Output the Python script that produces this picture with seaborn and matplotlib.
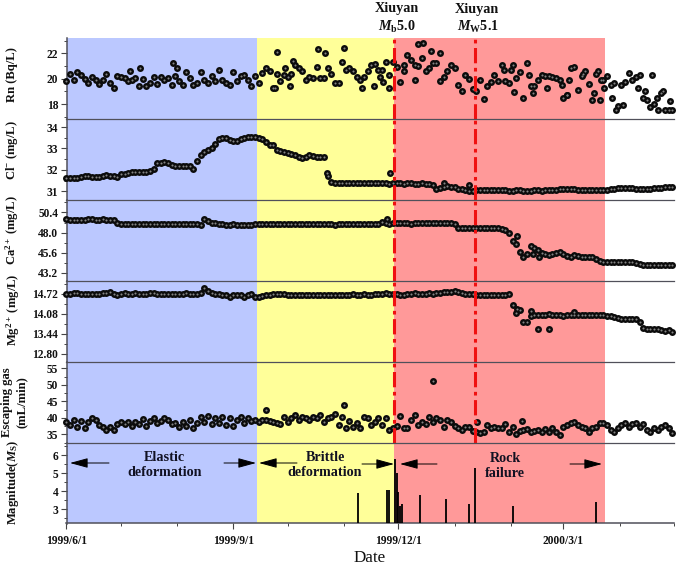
import numpy as np
import pandas as pd
import matplotlib
matplotlib.use("Agg")
import matplotlib.pyplot as plt
import matplotlib.dates as mdates
from matplotlib.ticker import AutoMinorLocator, FixedLocator
import seaborn as sns

# values every 2 days from 1999/6/1, one row = 30 days
rn = [19.85, 20.4, 19.9, 20.5, 20.25, 20, 19.65, 20.1, 19.9, 19.6, 19.9, 20.35, 19.65, 19.25, 20.2,
      20.1, 20.05, 19.8, 19.9, 20.05, 19.45, 20, 19.4, 19.65, 20.1, 19.55, 20.1, 19.9, 20.05, 19.5,
      20.2, 19.85, 19.5, 20.5, 20.05, 19.5, 19.65, 20.5, 19.9, 19.65, 20.2, 19.85, 20.65, 19.9, 19.65,
      19.5, 20.5, 19.85, 20.2, 20.25, 19.9, 19.4, 20.2, 19.65, 20.45, 20.8, 20.6, 19.25, 20.35, 19.85,
      20.25, 20.1, 20.35, 21.1, 20.8, 20.6, 19.9, 20.1, 20.05, 20.9, 20.05, 20.05, 20.8, 20.35, 19.65,
      19.65, 21.3, 20.7, 20.8, 20.6, 20.1, 19.9, 20.1, 20.6, 21.05, 21.15, 20.7, 20.7, 21.3, 20.25,
      21.3, 20.9, 19.75, 21.1, 21.9, 21.5, 21.1, 21, 21.6, 20.6, 20.85, 21.25, 21.25, 19.85, 20.1,
      20.6, 21.1, 20.8, 19.5, 19, 20.3, 20, 19.2, 19, 19.9, 18.4, 19.4, 19.7, 20.3, 19.85,
      21.05, 19.8, 19.65, 21.05, 20.05, 20.5, 18.5, 21.25, 19.4, 19.4, 19.9, 20.3, 20.2, 20.2, 20.1,
      20.05, 19.9, 18.5, 18.7, 20.8, 20.9, 19.1, 20.2, 20.6, 19.6, 18.3, 20.35, 18.3, 19.9, 20.2,
      19.5, 19.65, 17.85, 19.5, 19.75, 20.45, 19.9, 20.1, 20.3, 18.5, 18.35, 17.8, 18, 17.55, 18.9,
      17.55, 17.55, 17.5]
rn_extra_days = [34.8, 40.8, 59, 60.8, 114.7, 116, 120.7, 123, 124.8, 138.9, 142.7, 152.8, 163, 169.7,
                 172.8, 174.8, 178, 186, 192, 193.7, 196.6, 201, 205.8, 241.4, 245, 247, 255, 257,
                 264.9, 273, 275.8, 276.9, 285, 290.9, 293.3, 295, 296.6, 301, 303, 307, 315, 319,
                 323, 325.4, 328.7, 333]
rn_extra = [20.6, 20.8, 21.25, 20.8, 19.25, 22.1, 20.8, 19.4, 21.4, 22.3, 22, 22.4, 19.3, 19.4,
            20.1, 19.75, 19.3, 20.6, 19.9, 22.7, 22.8, 22.2, 22, 20.7, 20.65, 18.95, 20.25, 18.85,
            19.3, 19.5, 18.7, 19.9, 20.35, 18.85, 20.6, 19.9, 19.25, 18.5, 17.55, 17.95, 19.3, 19,
            20.3, 18.45, 19, 18.25]

cl = [31.6, 31.6, 31.6, 31.62, 31.65, 31.7, 31.72, 31.68, 31.65, 31.68, 31.72, 31.75, 31.72, 31.7, 31.65,
      31.8, 31.82, 31.85, 31.88, 31.9, 31.92, 31.9, 31.88, 31.95, 32.05, 32.3, 32.3, 32.35, 32.3, 32.25,
      32.2, 32.2, 32.18, 32.18, 32.2, 32.05, 32.4, 32.7, 32.85, 32.95, 33, 33.2, 33.45, 33.5, 33.48,
      33.38, 33.35, 33.35, 33.42, 33.5, 33.52, 33.55, 33.52, 33.5, 33.42, 33.28, 33.18, 33.15, 32.95, 32.9,
      32.85, 32.8, 32.75, 32.7, 32.62, 32.55, 32.62, 32.68, 32.65, 32.62, 32.62, 32.6, 31.7, 31.45, 31.4,
      31.38, 31.38, 31.4, 31.4, 31.4, 31.4, 31.38, 31.38, 31.38, 31.4, 31.4, 31.38, 31.38, 31.38, 31.36,
      31.38, 31.38, 31.38, 31.36, 31.38, 31.38, 31.36, 31.36, 31.38, 31.36, 31.34, 31.3, 31.12, 31.13, 31.2,
      31.25, 31.2, 31.18, 31.12, 31.1, 31.08, 31, 31.02, 31.05, 31.08, 31.07, 31.05, 31.05, 31.05, 31.05,
      31.05, 31.05, 31.03, 31.03, 31.05, 31.05, 31.03, 31.03, 31.03, 31.05, 31.05, 31.03, 31.05, 31.05, 31.08,
      31.08, 31.1, 31.12, 31.12, 31.1, 31.1, 31.08, 31.07, 31.07, 31.05, 31.05, 31.05, 31.07, 31.07, 31.07,
      31.1, 31.12, 31.13, 31.13, 31.13, 31.13, 31.13, 31.12, 31.12, 31.12, 31.12, 31.12, 31.13, 31.15, 31.17,
      31.2, 31.22, 31.22]
cl_extra_days = [143.8, 178.2, 208, 222]
cl_extra = [31.87, 31.87, 31.39, 31.28]

ca = [49.6, 49.5, 49.45, 49.45, 49.45, 49.5, 49.65, 49.6, 49.55, 49.55, 49.6, 49.55, 49.5, 49.45, 49.1,
      49.05, 49, 49, 49.02, 49.02, 49.02, 49.02, 49.02, 49.02, 49.02, 49.05, 49.05, 49.05, 49.05, 49.02,
      49.02, 49, 49, 49.02, 49, 49, 49, 48.95, 49.6, 49.4, 49.2, 49.1, 49.05, 49, 48.95,
      48.95, 49, 48.95, 48.92, 48.92, 48.95, 48.95, 48.98, 49, 49.02, 49, 49, 49, 49, 49.05,
      49.05, 49, 49, 49, 49, 49, 49, 49, 49, 49, 49, 49.02, 49.02, 48.98, 48.95,
      49, 49, 49.02, 49.02, 49, 49, 49, 49, 49, 49.02, 49.05, 49.05, 49.3, 49.15, 49.05,
      49.1, 49.1, 49.12, 49.1, 49.1, 49.08, 49.1, 49.1, 49.12, 49.1, 49.1, 49.1, 49.12, 49.1, 49.1,
      49.1, 49.1, 49.05, 48.55, 48.55, 48.6, 48.6, 48.58, 48.6, 48.58, 48.55, 48.55, 48.55, 48.5, 48.5,
      48.45, 48.3, 47.9, 47, 46.7, 45.7, 45.1, 45.4, 46.35, 46.2, 45.95, 45.6, 45.5, 45.3, 45.5,
      45.6, 45.65, 45.4, 45.2, 45.1, 45.3, 45.25, 45.1, 45.1, 45.1, 45.05, 44.85, 44.65, 44.55, 44.55,
      44.5, 44.5, 44.5, 44.5, 44.5, 44.5, 44.45, 44.4, 44.25, 44.2, 44.2, 44.2, 44.2, 44.2, 44.2,
      44.15, 44.15, 44.2]
ca_extra_days = [177, 248.2, 257, 260.5]
ca_extra = [49.65, 47.65, 45.5, 45.1]

mg = [14.7, 14.72, 14.74, 14.73, 14.72, 14.7, 14.72, 14.72, 14.72, 14.72, 14.73, 14.75, 14.76, 14.72, 14.68,
      14.72, 14.74, 14.72, 14.72, 14.74, 14.72, 14.72, 14.72, 14.74, 14.74, 14.72, 14.72, 14.72, 14.72, 14.72,
      14.72, 14.72, 14.72, 14.74, 14.72, 14.72, 14.72, 14.75, 14.9, 14.8, 14.75, 14.72, 14.7, 14.68, 14.66,
      14.62, 14.68, 14.68, 14.66, 14.6, 14.68, 14.72, 14.62, 14.6, 14.65, 14.66, 14.68, 14.7, 14.72, 14.72,
      14.7, 14.68, 14.68, 14.68, 14.68, 14.66, 14.66, 14.66, 14.68, 14.66, 14.66, 14.66, 14.66, 14.66, 14.66,
      14.66, 14.66, 14.68, 14.68, 14.7, 14.68, 14.68, 14.7, 14.68, 14.68, 14.7, 14.7, 14.72, 14.74, 14.72,
      14.72, 14.7, 14.68, 14.68, 14.7, 14.72, 14.74, 14.72, 14.7, 14.72, 14.74, 14.72, 14.74, 14.74, 14.76,
      14.76, 14.78, 14.8, 14.78, 14.75, 14.72, 14.7, 14.7, 14.68, 14.68, 14.68, 14.68, 14.68, 14.68, 14.67,
      14.67, 14.66, 14.7, 14.35, 14.1, 14.18, 13.8, 13.8, 14, 14.02, 14.04, 14.04, 14.02, 14.05, 14.04,
      14.04, 14.02, 14, 14.02, 14.02, 14.02, 14.02, 14.02, 14.02, 14.02, 14.02, 14.02, 14.02, 14.02, 14,
      14, 13.97, 13.93, 13.9, 13.92, 13.92, 13.92, 13.9, 13.8, 13.62, 13.6, 13.6, 13.6, 13.58, 13.54,
      13.52, 13.56, 13.5]
mg_extra_days = [248.2, 256, 260, 266.2, 279.8]
mg_extra = [14.24, 14.17, 13.57, 13.6, 14.13]

gas = [38.8, 37.8, 39.3, 37.3, 39, 37, 38.8, 39.8, 39.3, 37.8, 37.3, 36.3, 37.3, 36.3, 38,
       38.8, 38, 38.8, 37.6, 38.6, 38, 39.6, 37.6, 39, 39.8, 38.3, 39, 39.8, 39.3, 38,
       38.3, 37.3, 38.8, 37.6, 39.3, 37, 38.3, 40.3, 38.8, 40.6, 38, 39.8, 38.3, 40.3, 37.8,
       40, 37.6, 39.3, 40.3, 38.3, 39.8, 39, 39.3, 38.8, 39.3, 39.3, 39, 38.6, 38.3, 38,
       40.3, 38.8, 39.8, 40.8, 39.3, 40.3, 39.8, 39.3, 40.3, 39.8, 40.8, 38.8, 39.8, 40.3, 41.3,
       37.8, 40.3, 36.8, 39, 37.3, 38.3, 36.8, 40.3, 39.8, 37.8, 38.8, 39.8, 37.8, 39.8, 36.3,
       36.8, 37.6, 40.6, 36.8, 37, 39.3, 40.8, 37.8, 38.8, 38, 40.3, 38.6, 39.8, 39.3, 37.3,
       39.3, 38.6, 37.6, 36.8, 36.3, 37.3, 37.3, 36, 35.8, 35.3, 35.8, 37.8, 36.8, 37.3, 37,
       37, 38, 35.8, 37.3, 35, 36, 36.3, 36.6, 35.8, 36, 36.3, 35.8, 36.6, 35.8, 37,
       35.8, 34.8, 37.3, 37.8, 38.3, 38.6, 37.8, 37.3, 36.8, 35.8, 37, 37.3, 38.3, 38.3, 37.8,
       36.3, 35.8, 36.8, 37.8, 38.3, 37.3, 38, 38.3, 37.3, 38, 36.3, 35.8, 36.8, 36.3, 37.3,
       37.8, 36.8, 35.5]
gas_extra_days = [110, 152.8, 202, 226.2, 251]
gas_extra = [42.5, 44, 51.1, 38.6, 39]

quake_days = [160.9, 176.7, 177.9, 180.9, 182, 182.9, 184, 185, 195, 209, 222, 225, 246, 292]
quake_mag = [3.87, 4.07, 4.07, 5.78, 5, 3.97, 3.19, 3.3, 3.78, 3.58, 3.3, 5.28, 3.19, 3.4]

band_days = [0, 104.8, 180.7, 297]
band_colors = ["#BBC8FF", "#FFFF99", "#FF9999"]
event_days = [180.7, 225]

ylabels = ["Rn (Bq/L)", r"Cl$^{-}$ (mg/L)", r"Ca$^{2+}$ (mg/L)", r"Mg$^{2+}$ (mg/L)",
           "Escaping gas\n(mL/min)", r"Magnitude($\mathit{M}_{\mathrm{S}}$)"]
ylims = [(16.83, 23.2), (30.6, 34.38), (42.27, 51.9), (12.54, 15.13), (32.5, 57), (2.2, 6.69)]
yticks = [[18, 20, 22], [31, 32, 33, 34], [43.2, 45.6, 48, 50.4], [12.8, 13.44, 14.08, 14.72],
          [35, 40, 45, 50, 55], [3, 4, 5, 6]]
yticklabels = [["18", "20", "22"], ["31", "32", "33", "34"], ["43.2", "45.6", "48.0", "50.4"],
               ["12.80", "13.44", "14.08", "14.72"], ["35", "40", "45", "50", "55"], ["3", "4", "5", "6"]]
xtick_dates = ["1999-06-01", "1999-09-01", "1999-12-01", "2000-03-01"]
xtick_labels = ["1999/6/1", "1999/9/1", "1999/12/1", "2000/3/1"]

sns.set_theme(style="ticks")
plt.rcParams["font.family"] = ["Liberation Serif", "DejaVu Serif"]
plt.rcParams["font.weight"] = "bold"
plt.rcParams["mathtext.fontset"] = "custom"
plt.rcParams["mathtext.rm"] = "Liberation Serif:bold"
plt.rcParams["mathtext.it"] = "Liberation Serif:italic:bold"
plt.rcParams["mathtext.bf"] = "Liberation Serif:bold"
plt.rcParams["mathtext.default"] = "rm"

W, H = 678, 565
start = pd.Timestamp("1999-06-01")


def to_date(days):
    return start + pd.to_timedelta(np.asarray(days, dtype=float), unit="D")


def px(x, y):
    return x / W, 1 - y / H


fig, axes = plt.subplots(6, 1, figsize=(W / 100, H / 100), dpi=100, sharex=True)
fig.subplots_adjust(left=66.5 / W, right=674 / W, top=1 - 38 / H, bottom=1 - 523.5 / H, hspace=0)

series = [(rn, rn_extra_days, rn_extra), (cl, cl_extra_days, cl_extra), (ca, ca_extra_days, ca_extra),
          (mg, mg_extra_days, mg_extra), (gas, gas_extra_days, gas_extra)]

for i, ax in enumerate(axes):
    for j in range(3):
        ax.axvspan(to_date(band_days[j]), to_date(band_days[j + 1]), color=band_colors[j], lw=0, zorder=0)
    if i < 5:
        vals, extra_days, extra_vals = series[i]
        days = list(np.arange(len(vals)) * 2.0) + extra_days
        df = pd.DataFrame({"date": to_date(days), "value": list(vals) + extra_vals})
        sns.scatterplot(data=df, x="date", y="value", ax=ax, color="#0c0c0c", s=25, linewidth=0,
                        legend=False, zorder=3, clip_on=False)
        sns.scatterplot(data=df, x="date", y="value", ax=ax, color="#858585", s=2.2, linewidth=0,
                        legend=False, zorder=4, clip_on=False)
        for d in event_days:
            ax.axvline(to_date(d), color="#F01010", lw=2.2, ls=(0, (5, 1.5, 1.2, 1.5)), zorder=5)
    else:
        ax.vlines(to_date(quake_days), ylims[5][0], quake_mag, color="black", lw=1.3, zorder=3)

    ax.set_ylim(*ylims[i])
    ax.set_yticks(yticks[i])
    ax.set_yticklabels(yticklabels[i], fontsize=8.3, fontweight="bold", color="#111111")
    ax.yaxis.set_minor_locator(AutoMinorLocator(2))
    ax.tick_params(axis="y", which="major", length=4, width=0.8, color="#444444", pad=2)
    ax.tick_params(axis="y", which="minor", length=2.2, width=0.7, color="#444444")
    ax.set_xlabel("")
    ax.set_ylabel("")
    ax.spines["right"].set_visible(False)
    ax.spines["top"].set_visible(i > 0)
    ax.spines["bottom"].set_visible(i == 5)
    ax.spines["left"].set_linewidth(1.1)
    for s in ax.spines.values():
        s.set_color("#50505a")
    ax.spines["top"].set_linewidth(0.9)
    ax.spines["bottom"].set_linewidth(1.1)
    if i < 5:
        ax.tick_params(axis="x", which="both", bottom=False, labelbottom=False)

axes[0].set_xlim(start, pd.Timestamp("2000-05-01"))
bottom = axes[5]
bottom.xaxis.set_major_locator(FixedLocator(mdates.date2num(pd.to_datetime(xtick_dates))))
bottom.xaxis.set_minor_locator(mdates.MonthLocator())
bottom.set_xticklabels(xtick_labels, fontsize=8.3, fontweight="bold", color="#111111")
bottom.tick_params(axis="x", which="major", length=4, width=0.8, color="#444444", pad=4)
bottom.tick_params(axis="x", which="minor", length=2.2, width=0.7, color="#444444")

# y labels sit in a fixed column, they are not aligned to the tick labels
label_pos = [(12, 75), (12, 150), (12, 230), (13, 310), (14.5, 402), (13, 482)]
for txt, (x, y) in zip(ylabels, label_pos):
    fx, fy = px(x, y)
    fig.text(fx, fy, txt, rotation=90, ha="center", va="center", fontsize=9.1, fontweight="bold",
             color="#111111", linespacing=1.3)

for txt, x, y in [("Elastic\ndeformation", 164.5, 465), ("Brittle\ndeformation", 325, 465),
                  ("Rock\nfailure", 505, 466)]:
    fx, fy = px(x, y)
    fig.text(fx, fy, txt, ha="center", va="center", fontsize=10.2, fontweight="bold",
             color="#111122", linespacing=1.2, zorder=10)

for x0, x1, y in [(109, 70, 463), (224, 256, 463), (297, 259, 463), (362, 394, 464), (437, 400, 464),
                  (570, 602, 464)]:
    bottom.annotate("", xy=px(x1, y), xytext=px(x0, y), xycoords="figure fraction",
                    textcoords="figure fraction",
                    arrowprops=dict(arrowstyle="-|>,head_length=1.1,head_width=0.3", color="black", lw=0.7,
                                    shrinkA=0, shrinkB=0, mutation_scale=10))

fig.text(*px(397, 8.5), "Xiuyan", ha="center", va="center", fontsize=10.2, fontweight="bold", color="#111111")
fig.text(*px(397, 26.5), r"$\mathit{M}_{\mathrm{b}}$5.0", ha="center", va="center", fontsize=10.2,
         fontweight="bold", color="#111111")
fig.text(*px(477, 9), "Xiuyan", ha="center", va="center", fontsize=10.2, fontweight="bold", color="#111111")
fig.text(*px(478, 27), r"$\mathit{M}_{\mathrm{W}}$5.1", ha="center", va="center", fontsize=10.2,
         fontweight="bold", color="#111111")
fig.text(*px(370, 558), "Date", ha="center", va="center", fontsize=12.3, fontweight="normal", color="#111111")

fig.savefig("out.png", dpi=100)
